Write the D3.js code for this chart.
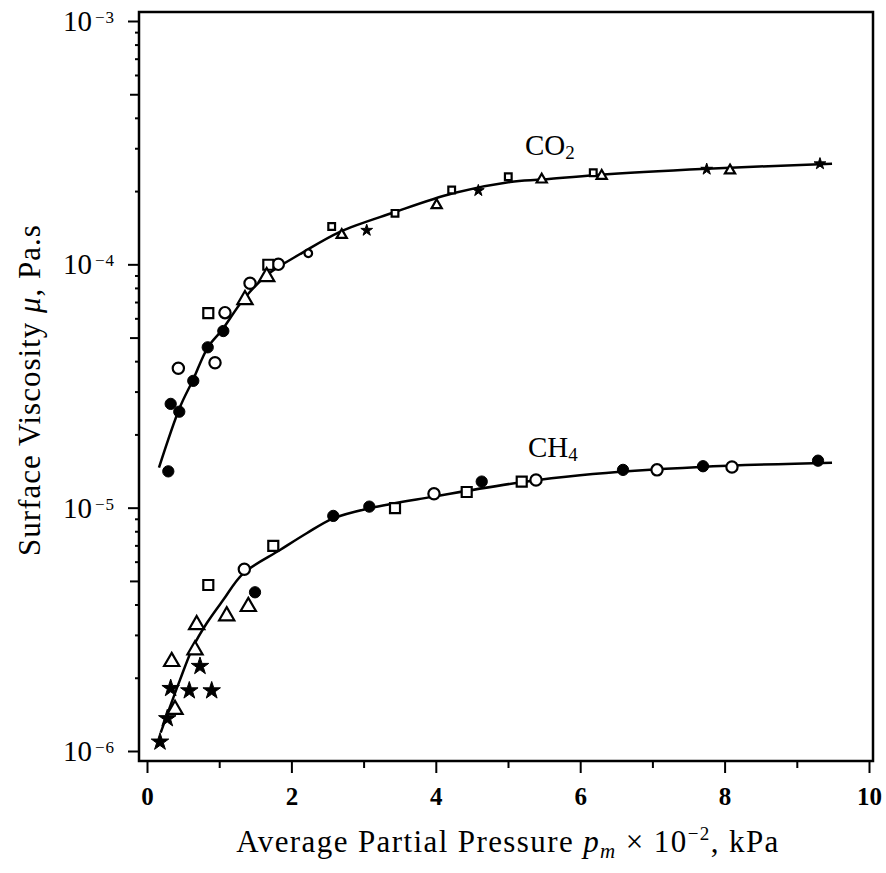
<!DOCTYPE html>
<html>
<head>
<meta charset="utf-8">
<script src="https://cdn.jsdelivr.net/npm/d3@7"></script>
<style>
  body { margin: 0; background: #fff; }
  text { font-family: "Liberation Serif", "DejaVu Serif", serif; fill: #000; }
  .tick line { stroke: #000; stroke-width: 2; }
  .x.axis .tick text { font-size: 25px; font-weight: bold; font-family: "Liberation Serif", serif; }
</style>
</head>
<body>
<svg width="886" height="873"></svg>
<script>
var svg = d3.select('svg');

// plot frame in page pixels
var frame = {l: 139, r: 873, t: 12, b: 761};

// fitted curves (pressure x 10^-2 kPa, viscosity Pa.s)
var co2Curve = [[0.166,1.46e-5],[0.457,2.59e-5],[0.637,3.35e-5],[0.845,4.57e-5],[1.039,5.37e-5],
  [1.330,7.14e-5],[1.662,9.04e-5],[2.161,1.12e-4],[2.673,1.36e-4],[3.407,1.63e-4],[4.238,1.96e-4],
  [5.028,2.18e-4],[5.485,2.23e-4],[6.233,2.33e-4],[7.756,2.47e-4],[9.488,2.59e-4]];
var ch4Curve = [[0.190,1.19e-6],[0.319,1.52e-6],[0.457,1.96e-6],[0.641,2.69e-6],[0.827,3.35e-6],
  [1.057,4.18e-6],[1.334,5.37e-6],[1.842,6.70e-6],[2.212,7.85e-6],[2.580,9.04e-6],[3.089,9.96e-6],
  [3.965,1.11e-5],[5.166,1.27e-5],[5.997,1.36e-5],[7.659,1.47e-5],[9.488,1.53e-5]];

// CO2 measurements by marker
var co2FilledCircles = [[0.295,1.41e-5],[0.328,2.67e-5],[0.447,2.48e-5],[0.641,3.32e-5],[0.841,4.56e-5],[1.057,5.32e-5]];
var co2OpenCircles = [[0.434,3.74e-5],[0.942,3.94e-5],[1.080,6.33e-5],[1.427,8.36e-5],[1.819,1.00e-4],[2.234,1.11e-4]];
var co2Squares = [[0.849,6.30e-5],[1.680,9.96e-5],[2.558,1.43e-4],[3.435,1.62e-4],[4.220,2.02e-4],[5.004,2.29e-4],[6.181,2.38e-4]];
var co2Triangles = [[1.357,7.15e-5],[1.658,8.89e-5],[2.697,1.32e-4],[4.012,1.75e-4],[5.467,2.23e-4],[6.298,2.31e-4],[8.075,2.43e-4]];
var co2Stars = [[3.043,1.38e-4],[4.589,2.01e-4],[7.752,2.46e-4],[9.321,2.59e-4]];

// CH4 measurements by marker
var ch4FilledCircles = [[1.496,4.49e-6],[2.580,9.25e-6],[3.079,1.01e-5],[4.636,1.28e-5],[6.593,1.43e-5],[7.701,1.48e-5],[9.294,1.56e-5]];
var ch4OpenCircles = [[1.348,5.58e-6],[3.975,1.14e-5],[5.388,1.30e-5],[7.064,1.43e-5],[8.102,1.47e-5]];
var ch4Squares = [[0.849,4.81e-6],[1.749,6.97e-6],[3.435,9.96e-6],[4.428,1.16e-5],[5.190,1.28e-5]];
var ch4Triangles = [[0.388,1.48e-6],[0.342,2.33e-6],[0.665,2.60e-6],[0.688,3.30e-6],[1.104,3.59e-6],[1.403,3.92e-6]];
var ch4Stars = [[0.180,1.09e-6],[0.281,1.36e-6],[0.328,1.81e-6],[0.586,1.77e-6],[0.896,1.77e-6],[0.734,2.23e-6]];

var xTickValues = [0, 2, 4, 6, 8, 10];
var xMinorValues = [1, 3, 5, 7, 9];
var yDecades = [-6, -5, -4, -3];

var xScale = d3.scaleLinear().domain([0, 10]).range([147, 869]);
var yScale = d3.scaleLog().domain([1e-6, 1e-3]).range([751, 21]);

// minor log ticks
var yMinor = [], yFive = [];
yDecades.slice(0, 3).forEach(function(e){
    for (var k = 2; k <= 9; k++) {
        (k == 5 ? yFive : yMinor).push(k * Math.pow(10, e));
    }
});

// axes
var xAxis = d3.axisBottom(xScale).tickValues(xTickValues).tickSize(12).tickPadding(14)
    .tickFormat(function(d){ return d; });
svg.append('g').attr('class', 'x axis')
    .attr('transform', 'translate(0,' + frame.b + ')')
    .call(xAxis);
svg.append('g').attr('class', 'x minor')
    .attr('transform', 'translate(0,' + frame.b + ')')
    .call(d3.axisBottom(xScale).tickValues(xMinorValues).tickSize(7).tickFormat(''));

svg.append('g').attr('class', 'y axis')
    .attr('transform', 'translate(' + frame.l + ',0)')
    .call(d3.axisLeft(yScale).tickValues(yDecades.map(function(e){ return Math.pow(10, e); }))
        .tickSize(11).tickFormat(''));
svg.append('g').attr('class', 'y minor')
    .attr('transform', 'translate(' + frame.l + ',0)')
    .call(d3.axisLeft(yScale).tickValues(yMinor).tickSize(4).tickFormat(''));
svg.append('g').attr('class', 'y minor')
    .attr('transform', 'translate(' + frame.l + ',0)')
    .call(d3.axisLeft(yScale).tickValues(yFive).tickSize(9).tickFormat(''));
svg.selectAll('.domain').remove();

// y tick labels 10^-n
yDecades.forEach(function(e){
    var ty = yScale(Math.pow(10, e));
    svg.append('text')
        .attr('x', 92).attr('y', ty + 10)
        .attr('text-anchor', 'end')
        .style('font-size', '29px')
        .text('10');
    svg.append('text')
        .attr('x', 95).attr('y', ty + 2)
        .style('font-size', '17px')
        .style('letter-spacing', '1px')
        .text('\u2212' + (-e));
});

// frame
svg.append('rect')
    .attr('x', frame.l).attr('y', frame.t)
    .attr('width', frame.r - frame.l).attr('height', frame.b - frame.t)
    .attr('fill', 'none').attr('stroke', '#000').attr('stroke-width', 2.5);

// curves
var line = d3.line()
    .x(function(d){ return xScale(d[0]); })
    .y(function(d){ return yScale(d[1]); })
    .curve(d3.curveCatmullRom);

[co2Curve, ch4Curve].forEach(function(c){
    svg.append('path').datum(c)
        .attr('d', line)
        .attr('fill', 'none').attr('stroke', '#000').attr('stroke-width', 2.5);
});

// markers
function drawMarkers(data, type, filled, cls) {
    svg.selectAll('.' + cls)
        .data(data)
        .enter()
        .append('path')
        .attr('class', cls)
        .attr('transform', function(d){ return 'translate(' + [xScale(d[0]), yScale(d[1])] + ')'; })
        .attr('d', function(d){
            // points at higher pressure are drawn smaller in the original
            var size = d[0] > 1.9 && d[1] > 5e-5 ? 45 : 100;
            if (type == d3.symbolStar) size *= 0.95;
            return d3.symbol().type(type).size(size)();
        })
        .attr('fill', filled ? '#000' : '#fff')
        .attr('stroke', '#000')
        .attr('stroke-width', filled ? 1 : 2.2);
}

drawMarkers(co2OpenCircles, d3.symbolCircle, false, 'co2-oc');
drawMarkers(co2Squares, d3.symbolSquare, false, 'co2-sq');
drawMarkers(co2Triangles, d3.symbolTriangle, false, 'co2-tr');
drawMarkers(co2FilledCircles, d3.symbolCircle, true, 'co2-fc');
drawMarkers(co2Stars, d3.symbolStar, true, 'co2-st');

drawMarkers(ch4OpenCircles, d3.symbolCircle, false, 'ch4-oc');
drawMarkers(ch4Squares, d3.symbolSquare, false, 'ch4-sq');
drawMarkers(ch4Triangles, d3.symbolTriangle, false, 'ch4-tr');
drawMarkers(ch4FilledCircles, d3.symbolCircle, true, 'ch4-fc');
drawMarkers(ch4Stars, d3.symbolStar, true, 'ch4-st');

// curve labels
var co2Label = svg.append('text').attr('x', 525).attr('y', 155).style('font-size', '29px');
co2Label.append('tspan').text('CO');
co2Label.append('tspan').attr('dy', 4).style('font-size', '19px').text('2');

var ch4Label = svg.append('text').attr('x', 528).attr('y', 457).style('font-size', '29px');
ch4Label.append('tspan').text('CH');
ch4Label.append('tspan').attr('dy', 4).style('font-size', '19px').text('4');

// axis titles
var xTitle = svg.append('text')
    .attr('x', 508).attr('y', 852)
    .attr('text-anchor', 'middle')
    .style('font-size', '31px')
    .style('letter-spacing', '1.4px');
xTitle.append('tspan').text('Average Partial Pressure ');
xTitle.append('tspan').style('font-style', 'italic').text('p');
xTitle.append('tspan').attr('dy', 6).style('font-style', 'italic').style('font-size', '21px').text('m');
xTitle.append('tspan').attr('dy', -6).text(' \u00d7 10');
xTitle.append('tspan').attr('dy', -12).style('font-size', '19px').text('\u22122');
xTitle.append('tspan').attr('dy', 12).text(', kPa');

var yTitle = svg.append('text')
    .attr('transform', 'translate(40,390)rotate(-90)')
    .attr('text-anchor', 'middle')
    .style('font-size', '31px')
    .style('letter-spacing', '1px');
yTitle.append('tspan').text('Surface Viscosity ');
yTitle.append('tspan').style('font-style', 'italic').text('\u03bc');
yTitle.append('tspan').text(', Pa.s');
</script>
</body>
</html>
